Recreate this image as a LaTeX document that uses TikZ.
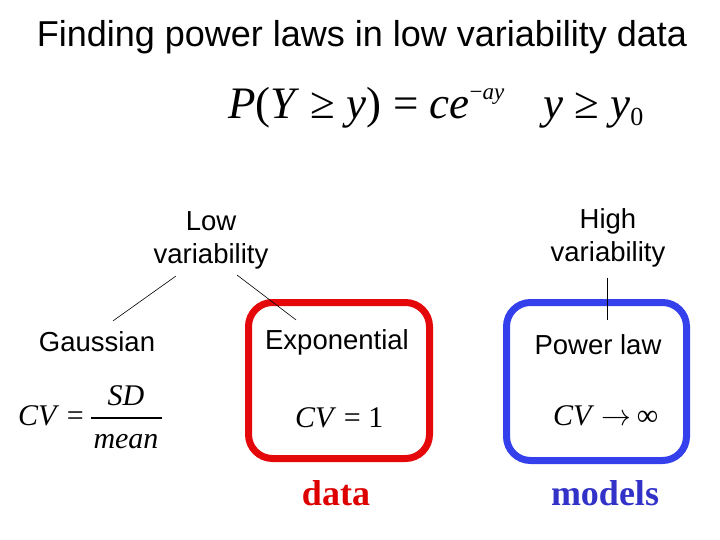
\documentclass[tikz,border=0pt]{standalone}
\usepackage{fontspec}
\setmainfont{Liberation Sans}
\newfontfamily\tnr{Liberation Serif}
\usetikzlibrary{calc}
\definecolor{boxred}{RGB}{228,8,10}
\definecolor{boxblue}{RGB}{52,64,236}
\definecolor{txtred}{RGB}{222,0,0}
\definecolor{txtblue}{RGB}{50,50,200}
\newcommand\mv[1]{\textit{#1}}
\begin{document}
\begin{tikzpicture}[x=1pt,y=-1pt,
  lbl/.style={font=\fontsize{27.5}{33}\selectfont, inner sep=0pt, align=center},
  eq/.style={font=\tnr\fontsize{45}{50}\selectfont, inner sep=0pt, anchor=base west},
  cv/.style={font=\tnr\fontsize{30}{34}\selectfont, inner sep=0pt, anchor=base west},
  fam/.style={font=\tnr\bfseries\fontsize{36}{40}\selectfont, inner sep=0pt, anchor=base},
  tie/.style={draw=black, line width=0.6pt},
  roundbox/.style={line width=7pt, rounded corners=24pt, inner sep=0pt}]
\path[use as bounding box] (0,0) rectangle (720,540);

% title
\node[font=\fontsize{36}{40}\selectfont, inner sep=0pt, anchor=base] (title) at (362,47) {Finding power laws in low variability data};

% formula
\node[eq] (pdf) at (228,119) {\mv{P}(\mv{Y} ≥ \mv{y}) = \mv{ce}\raisebox{19pt}{\fontsize{23}{23}\selectfont −\mv{ay}}};
\node[eq] (cond) at (543,119) {\mv{y} ≥ \mv{y}\raisebox{-7pt}{\fontsize{26}{26}\selectfont 0}};

% boxes
\node[roundbox, draw=boxred, minimum width=181pt, minimum height=156pt] (redbox) at (339,380.5) {};
\node[roundbox, draw=boxblue, minimum width=180pt, minimum height=158pt] (bluebox) at (596.5,381.5) {};

% category labels
\node[lbl] (low) at (211,240) {Low\\variability};
\node[lbl] (high) at (608,238) {High\\variability};
\node[lbl, anchor=base] (gauss) at (97,351) {Gaussian};
\node[lbl, anchor=base] (expo) at (337,349) {Exponential};
\node[lbl, anchor=base] (pow) at (598,354) {Power law};

% connectors
\draw[tie] ($(low.south)+(-35,7)$) -- ($(gauss.north)+(16,-10)$);
\draw[tie] ($(low.south)+(26,6)$) -- ($(expo.north)+(-41,-9)$);
\draw[tie] ($(high.south)+(-1,10)$) -- ($(pow.north)+(9,-14)$);

% CV formulas
\node[cv] (cvg) at (18,425) {\mv{CV} =};
\node[cv, anchor=base] (sd) at (126,405) {\mv{SD}};
\node[cv, anchor=base] (mean) at (126,448) {\mv{mean}};
\coordinate (barL) at (91,418);
\coordinate (barR) at (162,418);
\draw[line width=1.1pt] (barL) -- (barR);
\node[cv] (cve) at (295,427) {\mv{CV} = 1};
\node[cv] (cvp) at (553,425) {\mv{CV} \scalebox{1.2}{$\rightarrow$}\,∞};

% bottom labels
\node[fam, text=txtred] (data) at (336,505) {data};
\node[fam, text=txtblue] (models) at (605,505) {models};
\end{tikzpicture}
\end{document}
